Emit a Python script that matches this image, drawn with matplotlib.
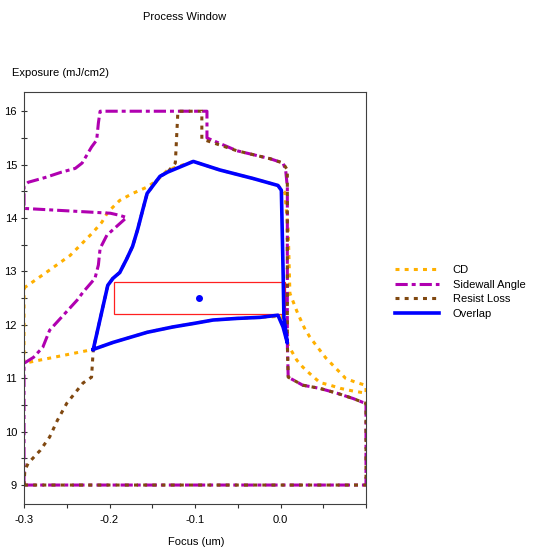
# process window chart: CD, sidewall angle and resist loss regions with overlap
import matplotlib
matplotlib.use('Agg')
import matplotlib.pyplot as plt

# CD region (focus in um, exposure in mJ/cm2)
cd_focus = [-0.300, -0.275, -0.246, -0.220, -0.209, -0.202, -0.188, -0.173,
            -0.156, -0.144, -0.132, -0.102, -0.071, -0.032, -0.003, 0.005,
            0.009, 0.011, 0.020, 0.028, 0.034, 0.041, 0.053, 0.067, 0.076,
            0.087, 0.099, 0.100, 0.100, 0.085, 0.070, 0.058, 0.046, 0.034,
            0.026, 0.019, 0.009, 0.001, -0.024, -0.051, -0.079, -0.100,
            -0.126, -0.156, -0.196, -0.219, -0.300, -0.300]
cd_exposure = [12.69, 12.97, 13.30, 13.72, 13.92, 14.11, 14.33, 14.46,
               14.58, 14.71, 14.90, 15.06, 14.90, 14.74, 14.61, 14.48,
               13.77, 12.59, 12.22, 11.94, 11.78, 11.63, 11.38, 11.15, 11.00,
               10.93, 10.87, 10.85, 10.72, 10.76, 10.81, 10.87, 10.92, 11.09,
               11.21, 11.34, 11.62, 12.16, 12.14, 12.12, 12.09, 12.03,
               11.96, 11.86, 11.67, 11.54, 11.28, 12.69]

# sidewall angle region
swa_focus = [-0.300, 0.100, 0.100, 0.096, 0.085, 0.066, 0.046, 0.026, 0.009,
             0.008, 0.008, 0.006, 0.003, -0.012, -0.051, -0.086, -0.086,
             -0.211, -0.213, -0.215, -0.221, -0.232, -0.240, -0.256, -0.275,
             -0.295, -0.300, -0.300, -0.199, -0.188, -0.180, -0.203, -0.211,
             -0.213, -0.217, -0.231, -0.238, -0.270, -0.278, -0.289, -0.300,
             -0.300]
swa_exposure = [9.00, 9.00, 10.53, 10.55, 10.62, 10.72, 10.81, 10.87, 11.02,
                11.66, 14.58, 14.90, 15.03, 15.11, 15.26, 15.50, 16.00,
                16.00, 15.78, 15.46, 15.33, 15.03, 14.93, 14.86, 14.76,
                14.67, 14.61, 14.18, 14.09, 14.05, 14.01, 13.68, 13.43,
                13.12, 12.87, 12.61, 12.46, 11.90, 11.58, 11.39, 11.28,
                9.00]

# resist loss region
rl_focus = [-0.300, 0.100, 0.100, 0.096, 0.085, 0.066, 0.046, 0.026, 0.009,
            0.008, 0.008, 0.003, -0.012, -0.051, -0.092, -0.092, -0.120,
            -0.123, -0.132, -0.141, -0.156, -0.161, -0.167, -0.173, -0.180,
            -0.188, -0.196, -0.202, -0.219, -0.221, -0.231, -0.250, -0.261,
            -0.270, -0.281, -0.295, -0.299, -0.300]
rl_exposure = [9.00, 9.00, 10.53, 10.55, 10.62, 10.72, 10.81, 10.87, 11.02,
               11.66, 14.90, 15.03, 15.11, 15.26, 15.48, 16.00, 16.00,
               15.03, 14.86, 14.78, 14.46, 14.16, 13.79, 13.47, 13.23,
               12.98, 12.87, 12.74, 11.54, 11.02, 10.91, 10.53, 10.21,
               9.90, 9.65, 9.41, 9.28, 9.00]

# overlap of the three regions
ov_focus = [-0.219, -0.202, -0.196, -0.188, -0.180, -0.173, -0.167, -0.161,
            -0.156, -0.141, -0.132, -0.102, -0.071, -0.032, -0.003, 0.001,
            0.003, 0.004, 0.008, 0.003, -0.003, -0.024, -0.051, -0.079,
            -0.100, -0.126, -0.156, -0.196, -0.219]
ov_exposure = [11.54, 12.74, 12.87, 12.98, 13.23, 13.47, 13.79, 14.16,
               14.46, 14.78, 14.86, 15.06, 14.90, 14.74, 14.61, 14.52,
               13.02, 12.14, 11.66, 11.96, 12.18, 12.14, 12.12, 12.09,
               12.03, 11.96, 11.86, 11.67, 11.54]

# process window: center, depth of focus, exposure latitude
pw_focus = -0.095
pw_exposure = 12.5
pw_dof = 0.2
pw_el = 0.6

xticks = [-0.3, -0.2, -0.1, 0.0]
xtick_labels = ['-0.3', '-0.2', '-0.1', '0.0']
yticks = [9, 10, 11, 12, 13, 14, 15, 16]

plt.rcParams['font.family'] = ['Liberation Sans', 'DejaVu Sans']
plt.rcParams['font.size'] = 8

fig = plt.figure(figsize=(5.33, 5.5), dpi=100)
ax = fig.add_axes([24 / 533, 1 - 504 / 550, 342 / 533, 412 / 550])

lw = 2.2
ax.plot(cd_focus, cd_exposure, color='#FFB000', lw=lw,
        linestyle=(0, (1.3, 1.7)), label='CD')
ax.plot(swa_focus, swa_exposure, color='#B000B0', lw=lw,
        linestyle=(0, (4, 1.3, 1.3, 1.3)), label='Sidewall Angle')
ax.plot(rl_focus, rl_exposure, color='#804810', lw=lw,
        linestyle=(0, (1.3, 1.7)), label='Resist Loss')
ax.plot(ov_focus, ov_exposure, color='#0000FF', lw=2.6, label='Overlap')

# process window rectangle and its center
ax.add_patch(plt.Rectangle((pw_focus - pw_dof / 2, pw_exposure - pw_el / 2),
                           pw_dof, pw_el, fill=False, edgecolor='#FF2020',
                           lw=0.9))
ax.plot([pw_focus], [pw_exposure], 'o', color='#0000FF', markersize=4)

# ticks first, then the limits so the ticks do not widen them
ax.set_xticks(xticks)
ax.set_xticklabels(xtick_labels)
ax.set_xticks([-0.25, -0.15, -0.05, 0.05, 0.1], minor=True)
ax.set_yticks(yticks)
ax.set_yticks([9.5, 10.5, 11.5, 12.5, 13.5, 14.5, 15.5], minor=True)
ax.set_xlim(-0.3, 0.1)
ax.set_ylim(8.645, 16.36)
ax.tick_params(axis='x', which='both', direction='out', length=3,
               width=0.8, pad=5, color='#303030')
ax.tick_params(axis='y', which='both', direction='inout', length=4,
               width=0.8, pad=3, color='#303030')
for s in ax.spines.values():
    s.set_color('#404040')
    s.set_linewidth(0.8)

# texts around the plot
fig.text(185 / 533, 1 - 17 / 550, 'Process Window', ha='center',
         va='center')
fig.text(12 / 533, 1 - 73 / 550, 'Exposure (mJ/cm2)', ha='left',
         va='center')
fig.text(196 / 533, 1 - 542 / 550, 'Focus (um)', ha='center', va='center')

fig.legend(loc='upper left', bbox_to_anchor=(395 / 533, 1 - 265 / 550),
           frameon=False, borderpad=0, borderaxespad=0, handlelength=4.0,
           handletextpad=1.2, labelspacing=0.42)

fig.savefig('out.png', dpi=100)
